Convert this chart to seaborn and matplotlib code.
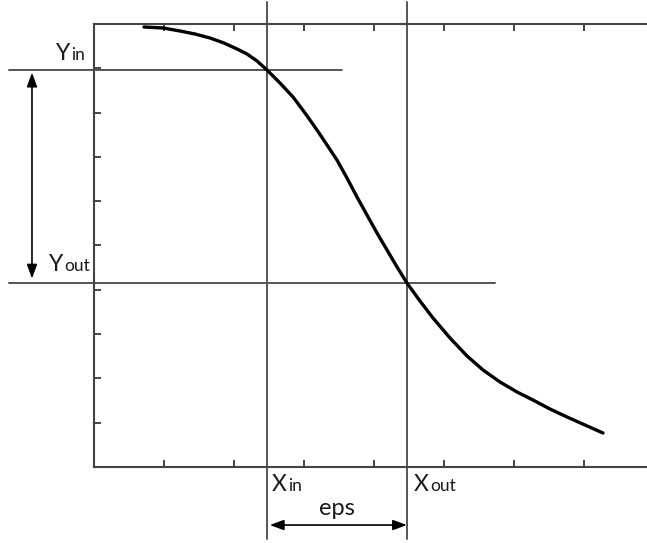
import matplotlib
matplotlib.use("Agg")
import matplotlib.pyplot as plt
import seaborn as sns

# Decreasing response curve, read along the plotted path
curve_x = [0.714, 0.986, 1.229, 1.443, 1.657, 1.857, 2.043, 2.186, 2.329, 2.471,
           2.657, 2.843, 3.014, 3.186, 3.329, 3.471, 3.614, 3.757, 3.900, 4.043,
           4.186, 4.329, 4.471, 4.657, 4.843, 5.086, 5.329, 5.557, 5.800, 6.043,
           6.271, 6.514, 6.757, 7.014, 7.271]
curve_y = [9.932, 9.910, 9.842, 9.774, 9.684, 9.571, 9.436, 9.323, 9.165, 8.962,
           8.668, 8.352, 7.991, 7.607, 7.269, 6.930, 6.524, 6.095, 5.688, 5.282,
           4.898, 4.515, 4.153, 3.747, 3.363, 2.912, 2.506, 2.190, 1.919, 1.693,
           1.512, 1.309, 1.129, 0.948, 0.767]

# Input / output operating points
x_in, x_out = 2.471, 4.471
y_in, y_out = 8.962, 4.153

x_ticks = [1, 2, 3, 4, 5, 6, 7]
y_ticks = [1, 2, 3, 4, 5, 6, 7, 8, 9]

sns.set_style("ticks")
plt.rcParams["font.family"] = ["Lato", "DejaVu Sans"]

fig = plt.figure(figsize=(6.47, 5.43), dpi=100)
ax = fig.add_axes([94 / 647, 76 / 543, 560 / 647, 443 / 543])

sns.lineplot(x=curve_x, y=curve_y, ax=ax, color="black", linewidth=2.4,
             sort=False, estimator=None)

ax.set_xlim(0, 8)
ax.set_ylim(0, 10)
ax.set_xticks(x_ticks)
ax.set_yticks(y_ticks)
ax.tick_params(direction="in", length=5, width=1.4, color="#444444",
               top=True, bottom=True, left=True, right=False,
               labelbottom=False, labelleft=False)
for side in ["left", "right", "top", "bottom"]:
    ax.spines[side].set_visible(True)
    ax.spines[side].set_color("#444444")
    ax.spines[side].set_linewidth(1.5)
ax.set_xlabel("")
ax.set_ylabel("")

guide = dict(color="#555555", linewidth=1.4, clip_on=False, zorder=1)
# vertical guides through X_in and X_out
ax.plot([x_in, x_in], [10.5, -1.63], **guide)
ax.plot([x_out, x_out], [10.5, -1.63], **guide)
# horizontal guides through Y_in and Y_out
ax.plot([-1.21, 3.54], [y_in, y_in], **guide)
ax.plot([-1.21, 5.73], [y_out, y_out], **guide)

arrow = dict(arrowstyle="<|-|>,head_length=0.6,head_width=0.22",
             color="black", lw=1.2, mutation_scale=14, shrinkA=0, shrinkB=0)
# span between the output levels
ax.annotate("", xy=(-0.886, y_in - 0.06), xytext=(-0.886, y_out + 0.1),
            arrowprops=arrow, annotation_clip=False)
# eps span between the input positions
ax.annotate("", xy=(x_in + 0.04, -1.31), xytext=(x_out, -1.31),
            arrowprops=arrow, annotation_clip=False)

big = dict(fontsize=16.5, color="#1a1a1a", ha="left", va="baseline", clip_on=False)
small = dict(fontsize=12.5, color="#1a1a1a", ha="left", va="baseline", clip_on=False)

ax.text(-0.55, 9.19, "Y", **big)
ax.text(-0.33, 9.19, "in", **small)
ax.text(-0.64, 4.42, "Y", **big)
ax.text(-0.42, 4.42, "out", **small)
ax.text(2.54, -0.54, "X", **big)
ax.text(2.77, -0.54, "in", **small)
ax.text(4.57, -0.54, "X", **big)
ax.text(4.80, -0.54, "out", **small)
ax.text((x_in + x_out) / 2, -1.08, "eps", fontsize=17, color="#1a1a1a",
        ha="center", va="baseline", clip_on=False)

fig.savefig("out.png", dpi=100)
